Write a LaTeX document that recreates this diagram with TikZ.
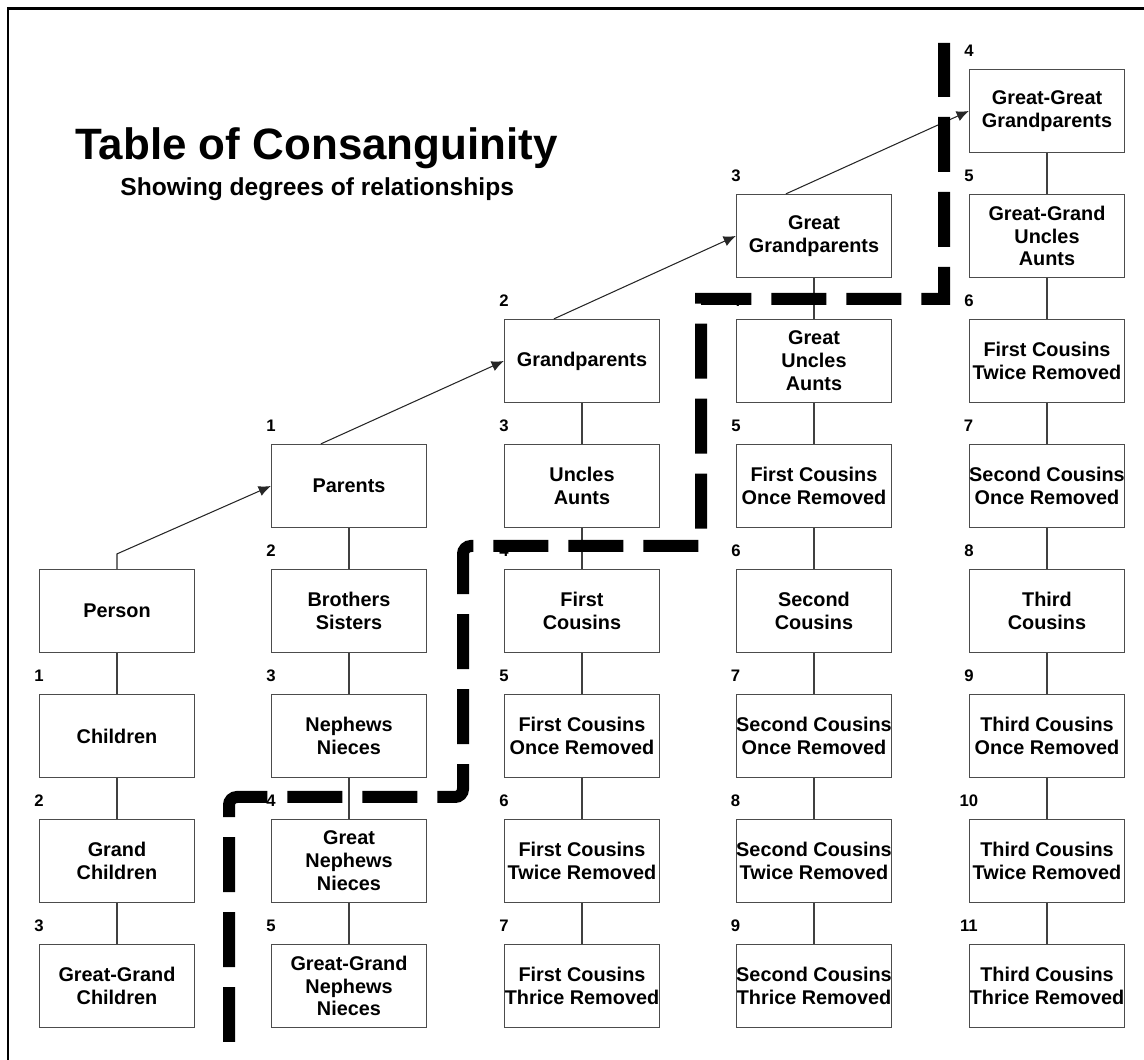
\documentclass[tikz,border=0pt]{standalone}
\usepackage{fontspec}
\setmainfont{Liberation Sans}
\usetikzlibrary{arrows.meta}

\tikzset{
  rel/.style={draw=black!70, line width=0.7pt, rectangle, minimum width=3.1cm,
    minimum height=1.66cm, inner sep=0pt, align=center,
    font=\fontsize{11.3}{13}\selectfont\bfseries},
  deglabel/.style={anchor=base, yshift=0.24cm, inner sep=0pt,
    font=\fontsize{9.5}{11}\selectfont\bfseries},
  deg/.style={label={[deglabel]north west:#1}},
  link/.style={draw=black!75, line width=0.6pt},
  up/.style={draw=black!85, line width=0.6pt, -{Latex[length=7pt,width=6pt]}},
  cut/.style={line width=0.24cm, dash pattern=on 1.1cm off 0.4cm}
}

\begin{document}
\begin{tikzpicture}[x=0.02cm, y=-0.02cm]
    \useasboundingbox (0,0) rectangle (1144,1060);
    \draw [line width=0.06cm] (8,1060) -- (8,9) -- (1144,9);

    \node [anchor=base west, inner sep=0pt, font=\fontsize{25}{30}\selectfont\bfseries]
      (title) at (75,160) {Table of Consanguinity};
    \node [anchor=base west, inner sep=0pt, font=\fontsize{14}{17}\selectfont\bfseries]
      (subtitle) at (120,196) {Showing degrees of relationships};

    % column 1
    \node [rel] (person) at (117,611) {Person};
    \node [rel, deg=1] (children) at (117,736) {Children};
    \node [rel, deg=2] (grandchildren) at (117,861) {Grand\\Children};
    \node [rel, deg=3] (ggchildren) at (117,986) {Great-Grand\\Children};

    % column 2
    \node [rel, deg=1] (parents) at (349,486) {Parents};
    \node [rel, deg=2] (siblings) at (349,611) {Brothers\\Sisters};
    \node [rel, deg=3] (nephews) at (349,736) {Nephews\\Nieces};
    \node [rel, deg=4] (gnephews) at (349,861) {Great\\Nephews\\Nieces};
    \node [rel, deg=5] (ggnephews) at (349,986) {Great-Grand\\Nephews\\Nieces};

    % column 3
    \node [rel, deg=2] (gparents) at (582,361) {Grandparents};
    \node [rel, deg=3] (uncles) at (582,486) {Uncles\\Aunts};
    \node [rel, deg=4] (fc) at (582,611) {First\\Cousins};
    \node [rel, deg=5] (fcone) at (582,736) {First Cousins\\Once Removed};
    \node [rel, deg=6] (fctwo) at (582,861) {First Cousins\\Twice Removed};
    \node [rel, deg=7] (fcthree) at (582,986) {First Cousins\\Thrice Removed};

    % column 4
    \node [rel, deg=3] (ggparents) at (814,236) {Great\\Grandparents};
    \node [rel, deg=4] (guncles) at (814,361) {Great\\Uncles\\Aunts};
    \node [rel, deg=5] (fconeb) at (814,486) {First Cousins\\Once Removed};
    \node [rel, deg=6] (sc) at (814,611) {Second\\Cousins};
    \node [rel, deg=7] (scone) at (814,736) {Second Cousins\\Once Removed};
    \node [rel, deg=8] (sctwo) at (814,861) {Second Cousins\\Twice Removed};
    \node [rel, deg=9] (scthree) at (814,986) {Second Cousins\\Thrice Removed};

    % column 5
    \node [rel, deg=4] (gggparents) at (1047,111) {Great-Great\\Grandparents};
    \node [rel, deg=5] (gguncles) at (1047,236) {Great-Grand\\Uncles\\Aunts};
    \node [rel, deg=6] (fctwob) at (1047,361) {First Cousins\\Twice Removed};
    \node [rel, deg=7] (sconeb) at (1047,486) {Second Cousins\\Once Removed};
    \node [rel, deg=8] (tc) at (1047,611) {Third\\Cousins};
    \node [rel, deg=9] (tcone) at (1047,736) {Third Cousins\\Once Removed};
    \node [rel, deg=10] (tctwo) at (1047,861) {Third Cousins\\Twice Removed};
    \node [rel, deg=11] (tcthree) at (1047,986) {Third Cousins\\Thrice Removed};

    \draw [link] (person) -- (children) (children) -- (grandchildren)
      (grandchildren) -- (ggchildren);
    \draw [link] (parents) -- (siblings) (siblings) -- (nephews)
      (nephews) -- (gnephews) (gnephews) -- (ggnephews);
    \draw [link] (gparents) -- (uncles) (uncles) -- (fc) (fc) -- (fcone)
      (fcone) -- (fctwo) (fctwo) -- (fcthree);
    \draw [link] (ggparents) -- (guncles) (guncles) -- (fconeb) (fconeb) -- (sc)
      (sc) -- (scone) (scone) -- (sctwo) (sctwo) -- (scthree);
    \draw [link] (gggparents) -- (gguncles) (gguncles) -- (fctwob)
      (fctwob) -- (sconeb) (sconeb) -- (tc) (tc) -- (tcone)
      (tcone) -- (tctwo) (tctwo) -- (tcthree);

    \draw [up] (person.north) -- ++(0,-15) -- (parents.west);
    \draw [up] ([xshift=1cm]parents.north west) -- (gparents.west);
    \draw [up] ([xshift=1cm]gparents.north west) -- (ggparents.west);
    \draw [up] ([xshift=1cm]ggparents.north west) -- (gggparents.west);

    % dividing line
    \draw [cut] (229,1042) [rounded corners=0.16cm] -- (229,797) -- (463,797)
      -- (463,546) [sharp corners] -- (701,546) -- (701,299) -- (944,299) -- (944,43);
\end{tikzpicture}
\end{document}
